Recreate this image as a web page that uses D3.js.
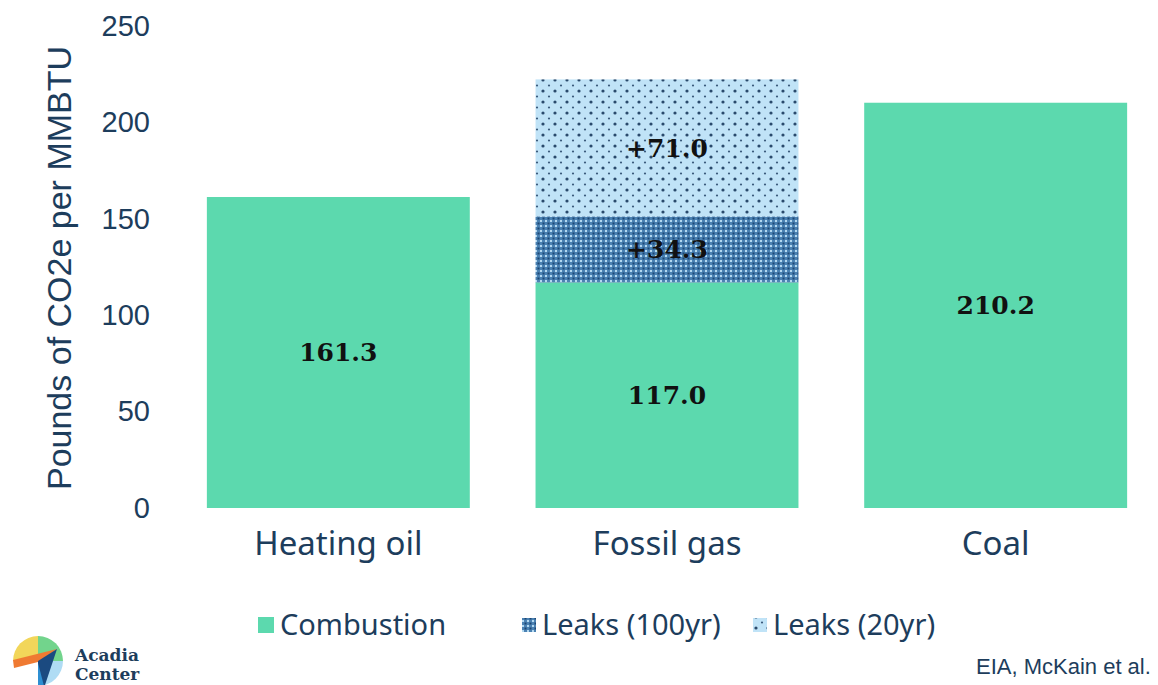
<!DOCTYPE html>
<html>
<head>
<meta charset="utf-8">
<script src="https://cdn.jsdelivr.net/npm/d3@7"></script>
<style>
  body { margin: 0; background: #fff; }
  svg { display: block; }
</style>
</head>
<body>
<svg id="chart" width="1158" height="685"></svg>
<script>
var categories = ["Heating oil", "Fossil gas", "Coal"]
var combustion = [161.3, 117.0, 210.2]
var leaks100 = [0, 34.3, 0]
var leaks20 = [0, 71.0, 0]
var yTicks = [0, 50, 100, 150, 200, 250]
var legendLabels = ["Combustion", "Leaks (100yr)", "Leaks (20yr)"]

var navy = "#1d3d5c"
var svg = d3.select("#chart")

// patterns for the leak segments
var defs = svg.append("defs")
var p100 = defs.append("pattern").attr("id", "p100")
    .attr("width", 5).attr("height", 5).attr("patternUnits", "userSpaceOnUse")
p100.append("rect").attr("width", 5).attr("height", 5).attr("fill", "#4b82b3")
p100.append("rect").attr("x", 0).attr("y", 0).attr("width", 2).attr("height", 2).attr("fill", "#b3d8f0")
p100.append("rect").attr("x", 2.5).attr("y", 2.5).attr("width", 2).attr("height", 2).attr("fill", "#1c4673")

var p20 = defs.append("pattern").attr("id", "p20")
    .attr("width", 12).attr("height", 11).attr("patternUnits", "userSpaceOnUse")
p20.append("rect").attr("width", 12).attr("height", 11).attr("fill", "#c0e3f7")
p20.append("circle").attr("cx", 3).attr("cy", 3).attr("r", 1.6).attr("fill", "#2a4a6c")
p20.append("circle").attr("cx", 9).attr("cy", 8.5).attr("r", 1.1).attr("fill", "#3a5a7c")

var y = d3.scaleLinear().domain([0, 250]).range([508, 26])
var x = d3.scaleBand().domain(categories).range([174, 1160]).paddingInner(0.2).paddingOuter(0.1)

// y axis (labels only)
var yAxis = d3.axisLeft(y).tickValues(yTicks).tickSize(0).tickPadding(0)
var gy = svg.append("g").attr("transform", "translate(150,0)").call(yAxis)
gy.select(".domain").remove()
gy.selectAll("text").attr("fill", navy).style("font-family", "Liberation Sans")
    .style("font-size", "29px")

svg.append("text")
    .attr("transform", "translate(71,268) rotate(-90)")
    .attr("text-anchor", "middle")
    .attr("fill", navy)
    .style("font-family", "Liberation Sans").style("font-size", "34px")
    .text("Pounds of CO2e per MMBTU")

// x axis (labels only)
var xAxis = d3.axisBottom(x).tickSize(0).tickPadding(0)
var gx = svg.append("g").attr("transform", "translate(0,529)").call(xAxis)
gx.select(".domain").remove()
gx.selectAll("text").attr("fill", navy).attr("dy", "0.8em")
    .style("font-family", "Noto Sans").style("font-size", "33px")

// stacked bars
var rows = categories.map(function(c, i) {
    return { cat: c, combustion: combustion[i], leaks100: leaks100[i], leaks20: leaks20[i] }
})
var keys = ["combustion", "leaks100", "leaks20"]
var fills = { combustion: "#5cd9ae", leaks100: "url(#p100)", leaks20: "url(#p20)" }
var stack = d3.stack().keys(keys)(rows)

var layer = svg.selectAll(".layer").data(stack).enter().append("g").attr("class", "layer")
    .attr("fill", function(d) { return fills[d.key] })

layer.selectAll("rect")
    .data(function(d) { return d.filter(function(s) { return s[1] > s[0] }) })
    .enter().append("rect")
    .attr("x", function(d) { return x(d.data.cat) })
    .attr("width", x.bandwidth())
    .attr("y", function(d) { return y(d[1]) })
    .attr("height", function(d) { return y(d[0]) - y(d[1]) })

// value labels
stack.forEach(function(s) {
    s.forEach(function(d) {
        if (d[1] <= d[0]) return
        var v = d[1] - d[0]
        svg.append("text")
            .attr("x", x(d.data.cat) + x.bandwidth() / 2)
            .attr("y", y((d[0] + d[1]) / 2))
            .attr("dy", "0.35em")
            .attr("text-anchor", "middle")
            .attr("fill", "#111")
            .style("font-family", "DejaVu Serif").style("font-weight", "bold").style("font-size", "25px")
            .text((s.key === "combustion" ? "" : "+") + v.toFixed(1))
    })
})

// legend
var legendX = [258, 522, 753]
var iconSize = [16, 14, 14]
var lg = svg.selectAll(".lg").data(keys).enter().append("g")
    .attr("transform", function(d, i) { return "translate(" + legendX[i] + ",625)" })
lg.append("rect")
    .attr("y", function(d, i) { return -iconSize[i] / 2 })
    .attr("width", function(d, i) { return iconSize[i] })
    .attr("height", function(d, i) { return iconSize[i] })
    .attr("fill", function(d) { return fills[d] })
lg.append("text").attr("x", function(d, i) { return iconSize[i] + 6 }).attr("dy", "0.36em").attr("fill", navy)
    .style("font-family", "Noto Sans").style("font-size", "29px")
    .text(function(d, i) { return legendLabels[i] })

// logo
var logo = svg.append("g").attr("transform", "translate(38,661)")
var wedges = [
    { a0: -Math.PI / 2, a1: 0.0, c: "#f2d65a" },
    { a0: 0.0, a1: Math.PI / 2, c: "#72d48c" },
    { a0: Math.PI / 2, a1: Math.PI, c: "#afdcf4" }
]
var arc = d3.arc().innerRadius(0).outerRadius(25)
logo.selectAll("path.w").data(wedges).enter().append("path")
    .attr("d", function(d) { return arc({ startAngle: d.a0, endAngle: d.a1 }) })
    .attr("fill", function(d) { return d.c })
logo.append("path").attr("d", "M-25,-1 L19,-12 L0,1 L-24,7 Z").attr("fill", "#ef7a32")
logo.append("path").attr("d", "M0,0 L19,-12 L7,24 L0,25 Z").attr("fill", "#1b4a80")
logo.append("path").attr("d", "M0,2 L6,25 L0,25 Z").attr("fill", "#2e8fd2")
svg.append("text").attr("x", 75).attr("y", 661).attr("fill", navy)
    .style("font-family", "DejaVu Serif").style("font-weight", "bold").style("font-size", "17px")
    .text("Acadia")
svg.append("text").attr("x", 75).attr("y", 680).attr("fill", navy)
    .style("font-family", "DejaVu Serif").style("font-weight", "bold").style("font-size", "17px")
    .text("Center")

svg.append("text").attr("x", 976).attr("y", 674).attr("fill", navy)
    .style("font-family", "Liberation Sans").style("font-size", "22px")
    .text("EIA, McKain et al.")
</script>
</body>
</html>
